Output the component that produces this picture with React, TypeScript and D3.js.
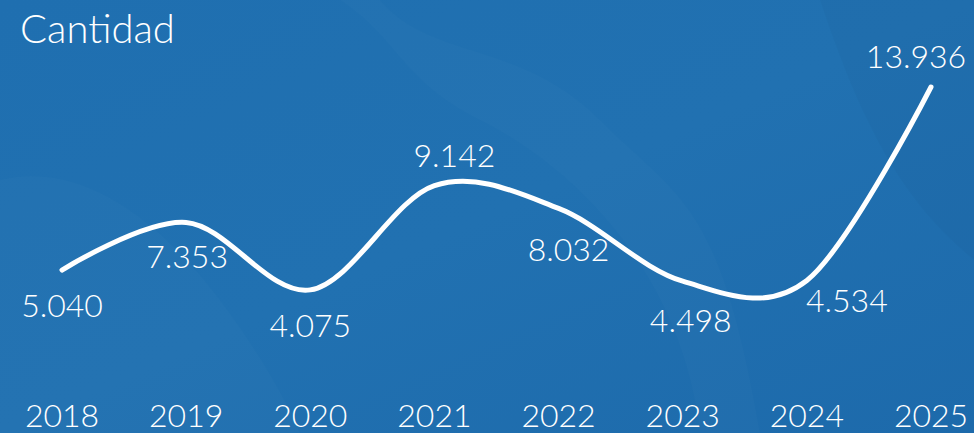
import React from "react";
import * as d3 from "d3";

const years: string[] = ["2018", "2019", "2020", "2021", "2022", "2023", "2024", "2025"];
const values: number[] = [5040, 7353, 4075, 9142, 8032, 4498, 4534, 13936];
const valueLabels: string[] = ["5.040", "7.353", "4.075", "9.142", "8.032", "4.498", "4.534", "13.936"];
const title = "Cantidad";

// label placement relative to each point (layout, not data)
const labelOffsets: [number, number][] = [
  [0, 47], [1, 46], [0, 47], [20, -19], [10, 53], [8, 51], [40, 32], [-15, -19],
];

const W = 974;
const H = 433;
const FONT = "Lato, 'Open Sans', sans-serif";

export default function App() {
  const x = d3.scalePoint<string>().domain(years).range([62, 931]);
  const y = d3.scaleLinear().domain([0, 15000]).range([373.7, 65.1]);
  const pts: [number, number][] = values.map((v, i) => [x(years[i]) as number, y(v)]);
  const line = d3.line<[number, number]>().x(d => d[0]).y(d => d[1]).curve(d3.curveCardinal.tension(0));

  return (
    <svg width={W} height={H} style={{ position: "fixed", left: 0, top: 0, display: "block" }}>
      <defs>
        <linearGradient id="bg" x1="0" y1="0" x2="1" y2="1">
          <stop offset="0" stopColor="#1f6fb0" />
          <stop offset="0.5" stopColor="#2171b1" />
          <stop offset="1" stopColor="#1d6aab" />
        </linearGradient>
      </defs>
      <rect width={W} height={H} fill="url(#bg)" />
      <path d="M380,0 C430,60 520,40 600,120 S720,200 760,433 L700,433 C680,260 560,160 480,120 S400,40 340,0 Z" fill="#ffffff" opacity={0.015} />
      <path d="M0,180 C80,160 160,220 220,300 S300,433 300,433 L0,433 Z" fill="#ffffff" opacity={0.015} />
      <path d="M820,0 C860,120 900,200 974,260 L974,0 Z" fill="#000000" opacity={0.02} />
      <text x={20} y={43} fill="#fff" fontFamily={FONT} fontWeight={300} fontSize={40}>{title}</text>
      <path d={line(pts) || ""} fill="none" stroke="#fff" strokeWidth={5} strokeLinecap="round" strokeLinejoin="round" />
      {pts.map((p, i) => (
        <text key={"v" + i} x={p[0] + labelOffsets[i][0]} y={p[1] + labelOffsets[i][1]} textAnchor="middle"
          fill="#fff" fontFamily={FONT} fontWeight={300} fontSize={32}>{valueLabels[i]}</text>
      ))}
      {years.map(yr => (
        <text key={yr} x={x(yr)} y={427} textAnchor="middle" fill="#fff" fontFamily={FONT}
          fontWeight={300} fontSize={32}>{yr}</text>
      ))}
    </svg>
  );
}
